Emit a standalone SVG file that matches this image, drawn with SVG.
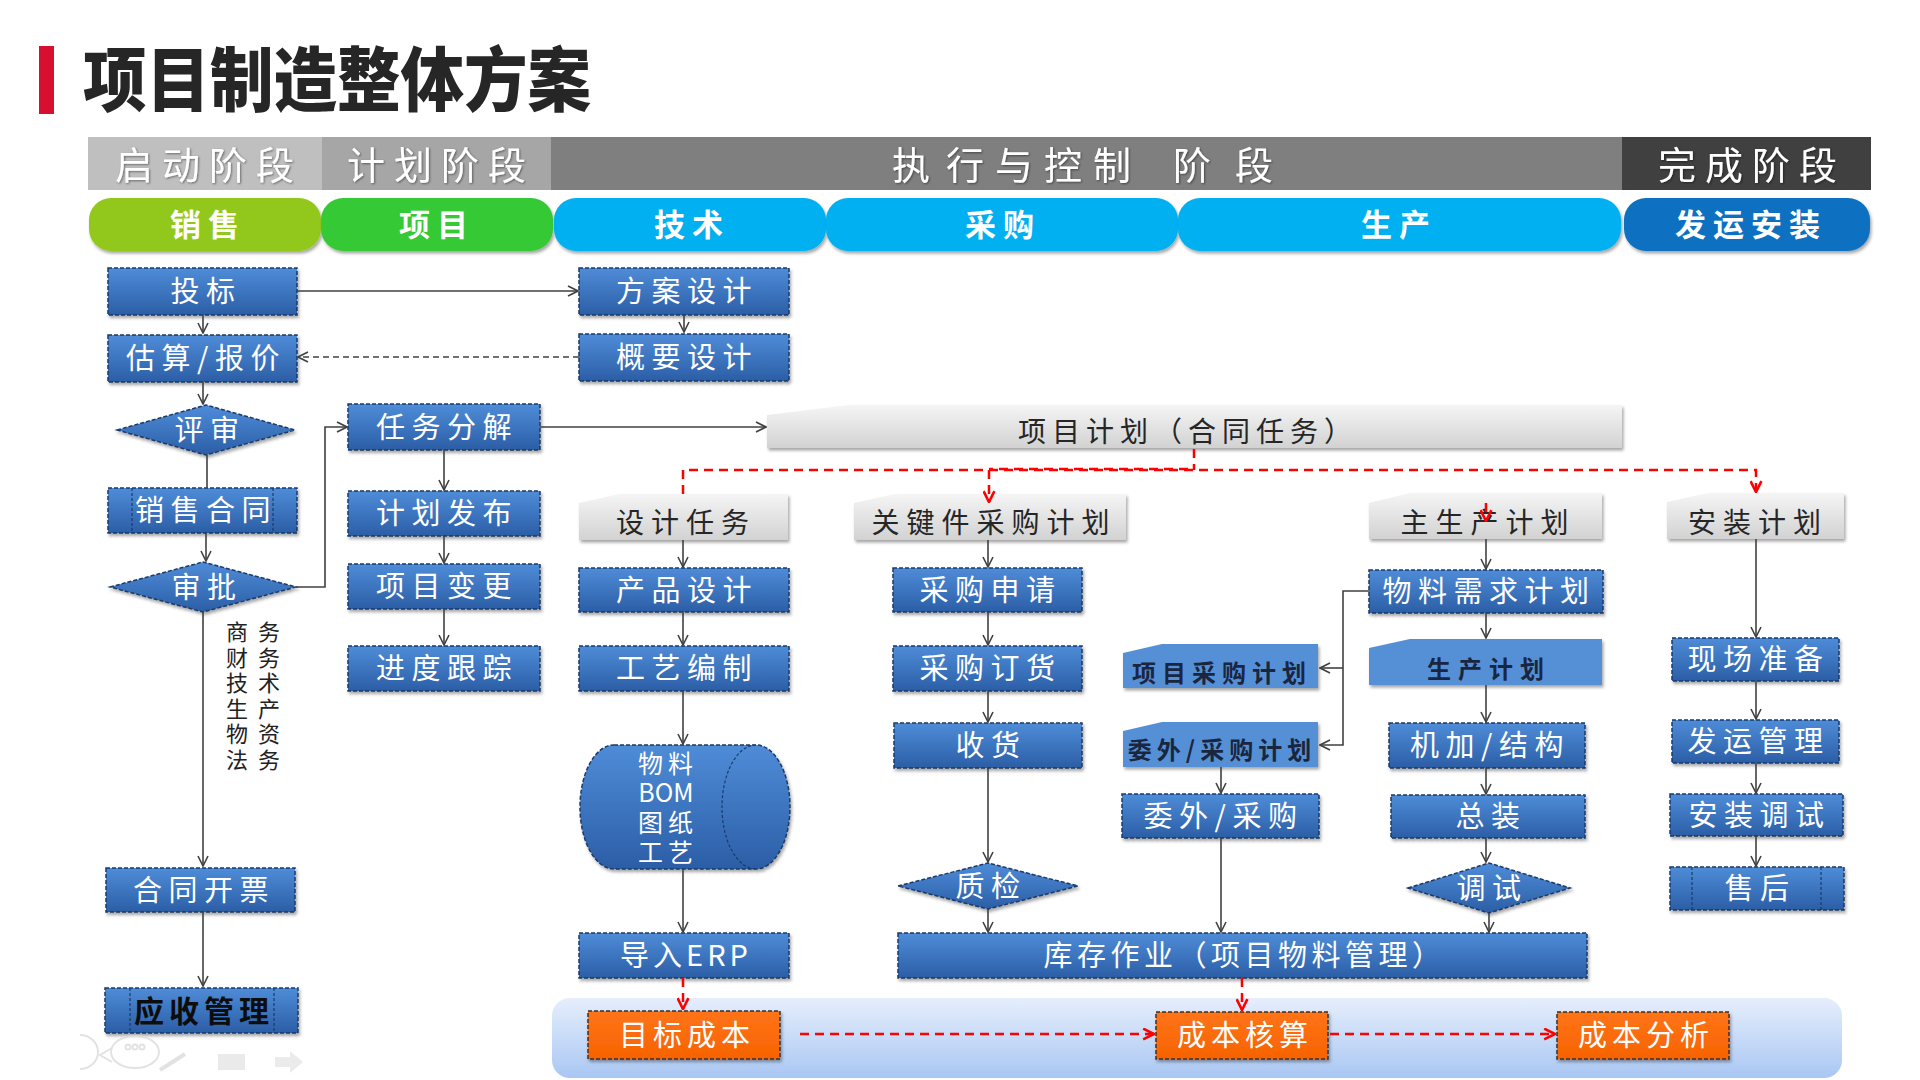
<svg xmlns="http://www.w3.org/2000/svg" width="1920" height="1080" viewBox="0 0 1920 1080">
<defs>
<linearGradient id="gBlue" x1="0" y1="0" x2="0" y2="1"><stop offset="0" stop-color="#4f8cd8"/><stop offset="1" stop-color="#2b5ea6"/></linearGradient>
<linearGradient id="gGray" x1="0" y1="0" x2="0" y2="1"><stop offset="0" stop-color="#f5f5f5"/><stop offset="1" stop-color="#d2d2d2"/></linearGradient>
<linearGradient id="gBand" x1="0" y1="0" x2="0" y2="1"><stop offset="0" stop-color="#e6eefc"/><stop offset="1" stop-color="#a9c7f3"/></linearGradient>
<linearGradient id="gOr" x1="0" y1="0" x2="0" y2="1"><stop offset="0" stop-color="#ff7418"/><stop offset="1" stop-color="#f76300"/></linearGradient>
<filter id="sh" x="-10%" y="-20%" width="125%" height="160%"><feDropShadow dx="1.5" dy="2.5" stdDeviation="1.5" flood-color="#000" flood-opacity="0.35"/></filter>
<filter id="tsh" x="-10%" y="-20%" width="130%" height="150%"><feDropShadow dx="1" dy="1" stdDeviation="0.8" flood-color="#000" flood-opacity="0.45"/></filter>
<marker id="ah" viewBox="0 0 12 12" refX="11" refY="6" markerWidth="12" markerHeight="12" markerUnits="userSpaceOnUse" orient="auto"><path d="M1,1 L11,6 L1,11" fill="none" stroke="#404040" stroke-width="1.6"/></marker>
<marker id="ar" viewBox="0 0 12 12" refX="11" refY="6" markerWidth="13" markerHeight="13" markerUnits="userSpaceOnUse" orient="auto"><path d="M1,1 L11,6 L1,11" fill="none" stroke="#ff0000" stroke-width="2.4"/></marker>
<style>
text{font-family:"Noto Sans CJK SC","Noto Sans",sans-serif}
.bn{fill:url(#gBlue);stroke:#1b3a66;stroke-width:1.5;stroke-dasharray:4 2;filter:url(#sh)}
.il{stroke:#1b3a66;stroke-width:1.2;stroke-dasharray:3 2;fill:none}
.bt{font-size:29px;fill:#fff;text-anchor:middle;letter-spacing:6.5px}
.gc{fill:url(#gGray);filter:url(#sh)}
.gt{font-size:28px;fill:#262626;text-anchor:middle;letter-spacing:7px}
.lc{fill:#5590d6;filter:url(#sh)}
.lt{font-size:24px;fill:#1a2640;font-weight:700;text-anchor:middle;letter-spacing:6px}
.or{fill:url(#gOr);stroke:#333;stroke-width:1.5;stroke-dasharray:4 2;filter:url(#sh)}
.ot{font-size:29px;fill:#fff;text-anchor:middle;letter-spacing:5px}
.ph{font-size:38px;fill:#fff;text-anchor:middle;letter-spacing:9px;filter:url(#tsh)}
.fn{font-size:31px;fill:#fff;font-weight:700;text-anchor:middle;letter-spacing:7px}
.ln{stroke:#404040;stroke-width:1.6;fill:none}
.ar{marker-end:url(#ah)}
.rd{stroke:#ff0000;stroke-width:2.5;stroke-dasharray:9 6;fill:none}
.rar{marker-end:url(#ar)}
.nt{font-size:22px;fill:#222;letter-spacing:10px}
.cy{font-size:25px;fill:#fff;text-anchor:middle;letter-spacing:5px}
</style>
</defs>
<rect x="0" y="0" width="1920" height="1080" fill="#ffffff"/>

<g id="title">
<rect x="39" y="46" width="15" height="68" fill="#d7102f"/>
<text x="83" y="106" font-size="70" font-weight="900" fill="#262626" textLength="508" lengthAdjust="spacingAndGlyphs">项目制造整体方案</text>
</g>

<g id="phases">
<rect x="88" y="137" width="234" height="53" fill="#bfbfbf"/>
<rect x="322" y="137" width="229" height="53" fill="#a6a6a6"/>
<rect x="551" y="137" width="1071" height="53" fill="#7f7f7f"/>
<rect x="1622" y="137" width="249" height="53" fill="#404040"/>
<text class="ph" x="209" y="179">启动阶段</text>
<text class="ph" x="441" y="179">计划阶段</text>
<text class="ph" x="892 946 995 1044 1093 1173 1235" y="179" style="text-anchor:start;letter-spacing:0">执行与控制阶段</text>
<text class="ph" x="1752" y="179">完成阶段</text>
</g>

<g id="functions">
<g id="fn-sales"><rect x="89" y="198" width="232" height="53" rx="22" fill="#92c81a" filter="url(#sh)"/><text class="fn" x="208" y="236">销售</text></g>
<g id="fn-project"><rect x="321" y="198" width="232" height="53" rx="22" fill="#35c935" filter="url(#sh)"/><text class="fn" x="437" y="236">项目</text></g>
<g id="fn-tech"><rect x="554" y="198" width="272" height="53" rx="22" fill="#00b0f0" filter="url(#sh)"/><text class="fn" x="692" y="236">技术</text></g>
<g id="fn-purchase"><rect x="826" y="198" width="352" height="53" rx="22" fill="#00b0f0" filter="url(#sh)"/><text class="fn" x="1003" y="236">采购</text></g>
<g id="fn-production"><rect x="1178" y="198" width="443" height="53" rx="22" fill="#00b0f0" filter="url(#sh)"/><text class="fn" x="1399" y="236">生产</text></g>
<g id="fn-install"><rect x="1624" y="198" width="246" height="53" rx="22" fill="#0a6fc0" filter="url(#sh)"/><text class="fn" x="1751" y="236">发运安装</text></g>
</g>

<g id="cost-band"><rect x="552" y="998" width="1290" height="80" rx="18" fill="url(#gBand)"/></g>

<!-- Sales column -->
<g id="n-bid"><rect class="bn" x="108" y="268" width="189" height="47"/><text class="bt" x="206" y="302">投标</text></g>
<g id="n-quote"><rect class="bn" x="108" y="335" width="189" height="47"/><text class="bt" x="206" y="369">估算/报价</text></g>
<g id="n-review"><polygon class="bn" points="117,430 206,405 295,430 206,455"/><text class="bt" x="210" y="440.5">评审</text></g>
<g id="n-contract"><rect class="bn" x="108" y="488" width="189" height="45"/><line class="il" x1="132" y1="488" x2="132" y2="533"/><line class="il" x1="273" y1="488" x2="273" y2="533"/><text class="bt" x="206" y="521">销售合同</text></g>
<g id="n-approve"><polygon class="bn" points="110,587 203,562 296,587 203,612"/><text class="bt" x="207" y="597.5">审批</text></g>
<g id="n-depts">
<text class="nt" x="226" y="640"><tspan x="226" y="640">商务</tspan><tspan x="226" y="665.5">财务</tspan><tspan x="226" y="691">技术</tspan><tspan x="226" y="716.5">生产</tspan><tspan x="226" y="742">物资</tspan><tspan x="226" y="767.5">法务</tspan></text>
</g>
<g id="n-invoice"><rect class="bn" x="106" y="868" width="189" height="44"/><text class="bt" x="204" y="900.5">合同开票</text></g>
<g id="n-receivable"><rect class="bn" x="105" y="988" width="193" height="45"/><line class="il" x1="130" y1="988" x2="130" y2="1033"/><line class="il" x1="274" y1="988" x2="274" y2="1033"/><text class="bt" x="204" y="1021.5" style="fill:#0d0d0d;font-weight:700;font-size:30px;letter-spacing:5px">应收管理</text></g>

<!-- Project column -->
<g id="n-wbs"><rect class="bn" x="348" y="404" width="192" height="46"/><text class="bt" x="447" y="437.5">任务分解</text></g>
<g id="n-release"><rect class="bn" x="348" y="491" width="192" height="45"/><text class="bt" x="447" y="524">计划发布</text></g>
<g id="n-change"><rect class="bn" x="348" y="564" width="192" height="45"/><text class="bt" x="447" y="597">项目变更</text></g>
<g id="n-track"><rect class="bn" x="348" y="646" width="192" height="45"/><text class="bt" x="447" y="679">进度跟踪</text></g>

<!-- Project plan banner -->
<g id="n-plan"><path class="gc" d="M767,415 L850,405 L1622,405 L1622,448 L767,448 Z"/><text class="gt" x="1188" y="442" style="letter-spacing:6px">项目计划（合同任务）</text></g>

<!-- Tech column -->
<g id="n-scheme"><rect class="bn" x="579" y="268" width="210" height="47"/><text class="bt" x="687" y="302">方案设计</text></g>
<g id="n-outline"><rect class="bn" x="579" y="334" width="210" height="47"/><text class="bt" x="687" y="368">概要设计</text></g>
<g id="n-designtask"><path class="gc" d="M579,503 L620,494 L788,494 L788,540 L579,540 Z"/><text class="gt" x="686" y="533">设计任务</text></g>
<g id="n-product"><rect class="bn" x="579" y="568" width="210" height="44"/><text class="bt" x="687" y="600.5">产品设计</text></g>
<g id="n-process"><rect class="bn" x="579" y="646" width="210" height="45"/><text class="bt" x="687" y="679">工艺编制</text></g>
<g id="n-bom"><path class="bn" d="M614,745 H756 A34,62 0 0 1 756,869 H614 A34,62 0 0 1 614,745 Z"/><path class="il" d="M756,745 A34,62 0 0 0 756,869"/>
<text class="cy" x="668" y="773"><tspan x="668" y="773">物料</tspan><tspan x="666" y="802" style="letter-spacing:0">BOM</tspan><tspan x="668" y="832">图纸</tspan><tspan x="668" y="862">工艺</tspan></text></g>
<g id="n-erp"><rect class="bn" x="579" y="933" width="210" height="45"/><text class="bt" x="686" y="966" style="letter-spacing:4px">导入ERP</text></g>

<!-- Purchase column -->
<g id="n-keyplan"><path class="gc" d="M854,503 L895,494 L1126,494 L1126,540 L854,540 Z"/><text class="gt" x="994" y="533">关键件采购计划</text></g>
<g id="n-request"><rect class="bn" x="893" y="568" width="189" height="44"/><text class="bt" x="990.5" y="600.5">采购申请</text></g>
<g id="n-order"><rect class="bn" x="893" y="646" width="189" height="45"/><text class="bt" x="990.5" y="679">采购订货</text></g>
<g id="n-receive"><rect class="bn" x="894" y="723" width="188" height="45"/><text class="bt" x="991" y="756">收货</text></g>
<g id="n-qc"><polygon class="bn" points="898,886 988,863 1078,886 988,909"/><text class="bt" x="991" y="896.5">质检</text></g>
<g id="n-stock"><rect class="bn" x="898" y="933" width="689" height="45"/><text class="bt" x="1244.5" y="966" style="letter-spacing:4.5px">库存作业（项目物料管理）</text></g>

<!-- Production column -->
<g id="n-projpurchase"><path class="lc" d="M1123,653 L1162,644 L1318,644 L1318,688 L1123,688 Z"/><text class="lt" x="1222" y="681.5">项目采购计划</text></g>
<g id="n-outsourceplan"><path class="lc" d="M1123,731 L1162,722 L1318,722 L1318,767 L1123,767 Z"/><text class="lt" x="1222" y="759" style="letter-spacing:5px">委外/采购计划</text></g>
<g id="n-outsource"><rect class="bn" x="1122" y="794" width="197" height="44"/><text class="bt" x="1223.5" y="826.5">委外/采购</text></g>
<g id="n-mps"><path class="gc" d="M1369,503 L1410,493 L1602,493 L1602,539 L1369,539 Z"/><text class="gt" x="1488" y="532.5">主生产计划</text></g>
<g id="n-mrp"><rect class="bn" x="1369" y="570" width="234" height="43"/><text class="bt" x="1489" y="602">物料需求计划</text></g>
<g id="n-prodplan"><path class="lc" d="M1369,648 L1410,639 L1602,639 L1602,685 L1369,685 Z"/><text class="lt" x="1489" y="677.5" style="letter-spacing:7px">生产计划</text></g>
<g id="n-machining"><rect class="bn" x="1389" y="723" width="196" height="45"/><text class="bt" x="1490" y="756">机加/结构</text></g>
<g id="n-assembly"><rect class="bn" x="1391" y="795" width="194" height="43"/><text class="bt" x="1491" y="827">总装</text></g>
<g id="n-debug"><polygon class="bn" points="1408,888 1489,863 1570,888 1489,913"/><text class="bt" x="1492" y="898.5">调试</text></g>

<!-- Install column -->
<g id="n-installplan"><path class="gc" d="M1667,502 L1708,493 L1844,493 L1844,539 L1667,539 Z"/><text class="gt" x="1758" y="532.5">安装计划</text></g>
<g id="n-site"><rect class="bn" x="1672" y="638" width="167" height="43"/><text class="bt" x="1758.5" y="670">现场准备</text></g>
<g id="n-ship"><rect class="bn" x="1672" y="720" width="167" height="43"/><text class="bt" x="1758.5" y="752">发运管理</text></g>
<g id="n-installdebug"><rect class="bn" x="1670" y="794" width="173" height="42"/><text class="bt" x="1759.5" y="825.5">安装调试</text></g>
<g id="n-aftersales"><rect class="bn" x="1670" y="867" width="174" height="43"/><line class="il" x1="1692" y1="867" x2="1692" y2="910"/><line class="il" x1="1821" y1="867" x2="1821" y2="910"/><text class="bt" x="1760" y="899">售后</text></g>

<!-- Cost nodes -->
<g id="n-target"><rect class="or" x="588" y="1011" width="192" height="48"/><text class="ot" x="687" y="1045.5">目标成本</text></g>
<g id="n-costacc"><rect class="or" x="1156" y="1012" width="172" height="47"/><text class="ot" x="1245" y="1046">成本核算</text></g>
<g id="n-costana"><rect class="or" x="1557" y="1012" width="172" height="47"/><text class="ot" x="1646" y="1046">成本分析</text></g>

<g id="connectors">
<path class="ln ar" d="M297,291 H578"/>
<path class="ln ar" d="M203,315 V333"/>
<path class="ln ar" d="M684,315 V332"/>
<path class="ln ar" d="M579,357 H298" stroke-dasharray="6 4"/>
<path class="ln ar" d="M203,382 V404"/>
<path class="ln" d="M207,455 V488"/>
<path class="ln ar" d="M206,533 V561"/>
<path class="ln ar" d="M296,587 H325 V427 H347"/>
<path class="ln ar" d="M203,612 V866"/>
<path class="ln ar" d="M203,912 V986"/>
<path class="ln ar" d="M540,427 H766"/>
<path class="ln ar" d="M444,450 V490"/>
<path class="ln ar" d="M444,536 V563"/>
<path class="ln ar" d="M444,609 V645"/>
<path class="ln ar" d="M683,540 V567"/>
<path class="ln ar" d="M683,612 V645"/>
<path class="ln ar" d="M683,691 V744"/>
<path class="ln ar" d="M683,869 V932"/>
<path class="ln ar" d="M988,540 V567"/>
<path class="ln ar" d="M988,612 V645"/>
<path class="ln ar" d="M988,691 V722"/>
<path class="ln ar" d="M988,768 V862"/>
<path class="ln ar" d="M988,909 V932"/>
<path class="ln ar" d="M1221,767 V793"/>
<path class="ln ar" d="M1221,838 V932"/>
<path class="ln ar" d="M1486,539 V569"/>
<path class="ln ar" d="M1486,613 V638"/>
<path class="ln ar" d="M1369,591 H1343 V745 H1320"/>
<path class="ln ar" d="M1343,668 H1320"/>
<path class="ln ar" d="M1486,685 V722"/>
<path class="ln ar" d="M1486,768 V794"/>
<path class="ln ar" d="M1486,838 V862"/>
<path class="ln ar" d="M1489,913 V932"/>
<path class="ln ar" d="M1756,539 V637"/>
<path class="ln ar" d="M1756,681 V719"/>
<path class="ln ar" d="M1756,763 V793"/>
<path class="ln ar" d="M1756,836 V866"/>
<path class="rd" d="M1194,449 V470"/>
<path class="rd rar" d="M683,494 V470 H1756 V492"/>
<path class="rd" d="M989,469 H1194" stroke-dashoffset="5" stroke-width="2"/>
<path class="rd rar" d="M989,470 V502"/>
<path class="rd rar" d="M1486,503 V521" stroke-dasharray="10 3"/>
<path class="rd rar" d="M683,978 V1009"/>
<path class="rd rar" d="M1242,978 V1010"/>
<path class="rd rar" d="M800,1034 H1154"/>
<path class="rd rar" d="M1330,1034 H1555"/>
</g>

<g id="nav" fill="none" stroke="#dcdcdc" stroke-width="2" opacity="0.8">
<path d="M80,1035 A18,17 0 0 1 80,1069"/>
<ellipse cx="135" cy="1052" rx="24" ry="16"/>
<circle cx="128" cy="1047" r="2.5"/><circle cx="135" cy="1047" r="2.5"/><circle cx="142" cy="1047" r="2.5"/>
<path d="M112,1062 L100,1055 L112,1048"/>
<path d="M160,1070 L185,1054" stroke-width="4"/>
<rect x="218" y="1054" width="27" height="16" fill="#e6e6e6" stroke="none"/>
<path d="M275,1057 H290 V1051 L303,1062 L290,1073 V1067 H275 Z" fill="#e6e6e6" stroke="none"/>
</g>
</svg>
